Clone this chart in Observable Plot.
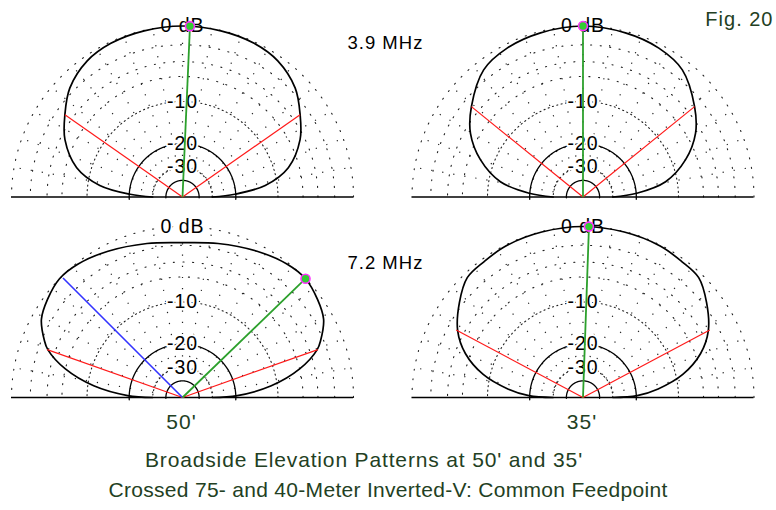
<!DOCTYPE html>
<html><head><meta charset="utf-8">
<script src="https://cdn.jsdelivr.net/npm/d3@7"></script>
<script src="https://cdn.jsdelivr.net/npm/@observablehq/plot@0.6"></script>
<style>
body{margin:0;background:#fff;width:776px;height:510px;overflow:hidden;position:relative;font-family:"Liberation Sans",Arial,sans-serif}
#chart{position:absolute;left:0;top:0}
.title{position:absolute;left:0;font-size:21px;line-height:21px;color:#233f23;text-align:center;white-space:nowrap}
#chart svg text{letter-spacing:1px}
</style></head><body>
<div id="chart"></div>
<div class="title" style="top:449px;width:728px;letter-spacing:0.85px">Broadside Elevation Patterns at 50' and 35'</div>
<div class="title" style="top:479px;width:776px;letter-spacing:0.3px">Crossed 75- and 40-Meter Inverted-V: Common Feedpoint</div>
<script>
// ---------- data ----------
const antennaHeights = ["50'", "35'"];
const frequencies = ["3.9 MHz", "7.2 MHz"];

// elevation angle (deg) and relative gain (dB), symmetric about the zenith
const elev_39_50 = [0, 3, 8, 15.5, 26, 35, 44, 55, 65, 77, 90];
const gain_39_50 = [-30, -20.3, -12.3, -7.6, -4.6, -3.0, -1.5, -0.5, -0.15, -0.05, 0];

const elev_39_35 = [0, 4, 10.5, 20, 29.5, 39, 52, 63, 75.5, 90];
const gain_39_35 = [-30, -19.8, -12.2, -7.7, -4.8, -3.0, -1.0, -0.4, -0.15, 0];

const elev_72_50 = [0, 2, 7.5, 13.7, 19.5, 22.5, 29, 36, 44, 52, 63, 77, 90];
const gain_72_50 = [-30, -19.5, -11.1, -6.0, -3.1, -2.3, -1.0, -0.42, 0, -0.15, -0.7, -1.35, -1.7];

const elev_72_35 = [0, 2, 6.5, 13, 20.5, 28, 37.5, 46, 54, 63, 76, 90];
const gain_72_35 = [-30, -19.7, -14.0, -8.8, -5.3, -3.2, -1.6, -0.45, -0.3, -0.1, -0.05, 0];

// per panel: order TL, TR, BL, BR
const panelHeight = ["50'", "35'", "50'", "35'"];
const panelFreq = ["3.9 MHz", "3.9 MHz", "7.2 MHz", "7.2 MHz"];
const maxAngle = [87.5, 90, 44, 88];
const maxGain = [0, 0, 0, 0];
const halfPowerLow = [35, 39, 19.5, 28];
const halfPowerHigh = [145, 141, 160.5, 152];
const halfPowerGain = [-3, -3, -3, -3];
const cursorAngle = [null, null, 135, null];
const cursorGain = [null, null, -0.2, null];

// grid
const sparseRings = [0, -2, -4, -6];
const denseRings = [-10, -30];
const solidRings = [-20, -40];
const spokeAngles = [10, 20, 30, 40, 50, 60, 70, 80, 90, 100, 110, 120, 130, 140, 150, 160, 170];
const ringLabelText = ["0 dB", "-10", "-20", "-30"];
const ringLabelGain = [0, -10, -20, -30];

// ---------- helpers ----------
const R = db => Math.pow(0.89, -db / 2);   // ARRL log scale
const rad = a => a * Math.PI / 180;
const pol = (deg, db) => ({x: R(db) * Math.cos(rad(deg)), y: R(db) * Math.sin(rad(deg))});

const patterns = [[elev_39_50, gain_39_50], [elev_39_35, gain_39_35], [elev_72_50, gain_72_50], [elev_72_35, gain_72_35]];
const patternPts = [];
patterns.forEach(([el, g], p) => {
  for (let i = 0; i < el.length; i++) patternPts.push({...pol(180 - el[i], g[i]), fx: panelHeight[p], fy: panelFreq[p]});
  for (let i = el.length - 2; i >= 0; i--) patternPts.push({...pol(el[i], g[i]), fx: panelHeight[p], fy: panelFreq[p]});
});

function arc(db, a0, a1, id) {
  const pts = [];
  for (let a = a0; a <= a1 + 1e-9; a += 1) pts.push({...pol(a, db), id});
  return pts;
}
const sparseRingPts = sparseRings.flatMap(d => arc(d, 0, 180, d));
const denseRingPts = denseRings.flatMap(d => arc(d, 0, 180, d));
const solidRingPts = solidRings.flatMap(d => arc(d, -2.5, 182.5, d));
const spokes = spokeAngles.map(a => ({a, ...pol(a, -30), x2: Math.cos(rad(a)), y2: Math.sin(rad(a))}));

const links = (angles, gains) => angles.map((a, i) => a == null ? null : ({...pol(a, gains[i]), fx: panelHeight[i], fy: panelFreq[i]})).filter(d => d);
const redLinks = [...links(halfPowerLow, halfPowerGain), ...links(halfPowerHigh, halfPowerGain)];
const greenLinks = links(maxAngle, maxGain);
const blueLinks = links(cursorAngle, cursorGain);
const ringLabels = ringLabelText.map((t, i) => ({t, y: R(ringLabelGain[i])}));

const dark = "#233f23";
const chart = Plot.plot({
  width: 776, height: 440,
  marginLeft: 11, marginRight: 22.5, marginTop: 25.5, marginBottom: 43,
  style: {fontFamily: "'Liberation Sans', Arial, sans-serif", background: "white", overflow: "visible"},
  fx: {domain: antennaHeights, paddingInner: 0.146, paddingOuter: 0, axis: null, round: false},
  fy: {domain: frequencies, paddingInner: 0.147, paddingOuter: 0, axis: null, round: false},
  x: {domain: [-1, 1], axis: null},
  y: {domain: [0, 1], axis: null},
  marks: [
    Plot.line(sparseRingPts, {x: "x", y: "y", z: "id", stroke: "#222", strokeWidth: 1.1, strokeDasharray: "1.1,8.5"}),
    Plot.line(denseRingPts, {x: "x", y: "y", z: "id", stroke: "#222", strokeWidth: 1.1, strokeDasharray: "1.1,3.4"}),
    Plot.link(spokes, {x1: "x", y1: "y", x2: "x2", y2: "y2", stroke: "#222", strokeWidth: 1.2, strokeDasharray: "1.2,10"}),
    Plot.line(solidRingPts, {x: "x", y: "y", z: "id", stroke: "black", strokeWidth: 1.3}),
    Plot.ruleY([0], {stroke: "black", strokeWidth: 1.6}),
    Plot.text(ringLabels, {x: 0, y: "y", text: "t", fontSize: 19.5, fill: "black", stroke: "white", strokeWidth: 4, lineAnchor: "middle"}),
    Plot.line(patternPts, {x: "x", y: "y", fx: "fx", fy: "fy", curve: "catmull-rom", stroke: "black", strokeWidth: 1.7}),
    Plot.link(redLinks, {x1: 0, y1: 0, x2: "x", y2: "y", fx: "fx", fy: "fy", stroke: "#ff1a1a", strokeWidth: 1.2}),
    Plot.link(blueLinks, {x1: 0, y1: 0, x2: "x", y2: "y", fx: "fx", fy: "fy", stroke: "#3333ff", strokeWidth: 1.6}),
    Plot.link(greenLinks, {x1: 0, y1: 0, x2: "x", y2: "y", fx: "fx", fy: "fy", stroke: "#2ca02c", strokeWidth: 1.8}),
    Plot.dot(greenLinks, {x: "x", y: "y", fx: "fx", fy: "fy", r: 4.5, fill: "#33cc33", stroke: "#ff33ff", strokeWidth: 1.6}),
    Plot.text([{fx: antennaHeights[0], fy: frequencies[0], t: frequencies[0]}], {fx: "fx", fy: "fy", text: "t", frameAnchor: "top-right", textAnchor: "start", lineAnchor: "bottom", dx: -6, dy: 23, fontSize: 18.5, fill: "black"}),
    Plot.text([{fx: antennaHeights[0], fy: frequencies[1], t: frequencies[1]}], {fx: "fx", fy: "fy", text: "t", frameAnchor: "top-right", textAnchor: "start", lineAnchor: "bottom", dx: -6, dy: 42.5, fontSize: 18.5, fill: "black"}),
    Plot.text([{fx: antennaHeights[1], fy: frequencies[0], t: "Fig. 20"}], {fx: "fx", fy: "fy", text: "t", frameAnchor: "top-right", textAnchor: "end", lineAnchor: "bottom", dx: 19.5, dy: -0.5, fontSize: 20, fill: dark}),
    Plot.text(antennaHeights.map(h => ({fx: h, fy: frequencies[1], t: h})), {fx: "fx", fy: "fy", text: "t", frameAnchor: "bottom", lineAnchor: "bottom", dx: -1, dy: 31, fontSize: 21, fill: dark})
  ]
});
document.getElementById("chart").appendChild(chart);
</script>
</body></html>
